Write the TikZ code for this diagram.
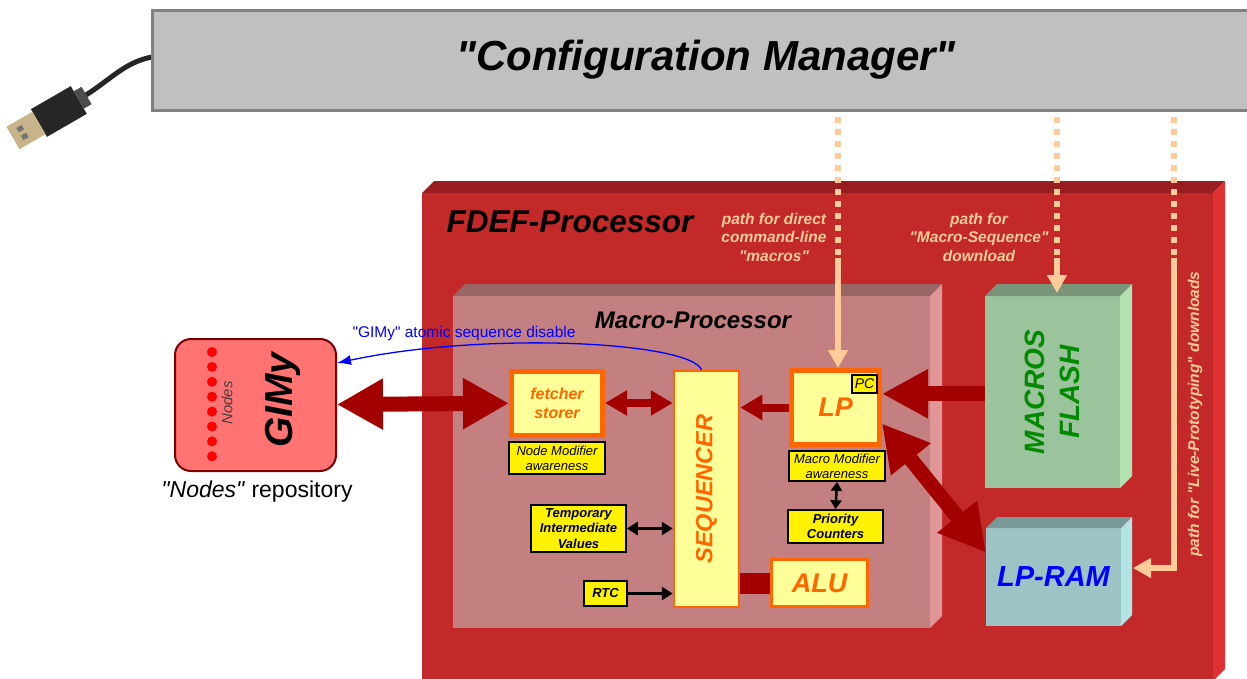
\documentclass[tikz,border=0pt]{standalone}
\usepackage{fontspec}
\setmainfont{Liberation Sans}[Ligatures=TeXOff]
\usetikzlibrary{arrows.meta}

\definecolor{cfggray}{HTML}{C0C0C0}
\definecolor{cfgline}{HTML}{808080}
\definecolor{fdefred}{HTML}{C4292A}
\definecolor{fdeftop}{HTML}{981E21}
\definecolor{fdefside}{HTML}{E03132}
\definecolor{macrofront}{HTML}{C48080}
\definecolor{macrotop}{HTML}{9A6565}
\definecolor{macroside}{HTML}{E09696}
\definecolor{flashfront}{HTML}{9CC49C}
\definecolor{flashtop}{HTML}{7A967A}
\definecolor{flashside}{HTML}{B2E2B2}
\definecolor{ramfront}{HTML}{9CC4C4}
\definecolor{ramtop}{HTML}{7A9A9A}
\definecolor{ramside}{HTML}{B2E4E4}
\definecolor{flashgreen}{HTML}{008A00}
\definecolor{arrowred}{HTML}{A30000}
\definecolor{gimyfill}{HTML}{FF7373}
\definecolor{gimyline}{HTML}{7A0000}
\definecolor{lightyel}{HTML}{FFFF99}
\definecolor{lporange}{HTML}{FF6600}
\definecolor{peach}{HTML}{FFCC99}
\definecolor{plugmetal}{HTML}{C8B48A}

\newcommand{\fsz}[2]{\fontsize{#1}{#2}\selectfont}
% top and right faces of a block, #2 = depth
\newcommand{\bevel}[4]{%
  \fill[#3] (#1.north west) -- ([shift={(#2,-#2)}]#1.north west) -- ([shift={(#2,-#2)}]#1.north east) -- (#1.north east) -- cycle;
  \fill[#4] (#1.north east) -- ([shift={(#2,-#2)}]#1.north east) -- ([shift={(#2,-#2)}]#1.south east) -- (#1.south east) -- cycle;}

\tikzset{
  face/.style={rectangle, inner sep=0pt, outer sep=0pt},
  thickbox/.style={draw=lporange, line width=5pt, fill=lightyel, text=lporange, align=center, inner sep=0pt},
  seqbox/.style={draw=lporange, line width=2.5pt, fill=lightyel, text=lporange, inner sep=0pt},
  tag/.style={draw=black, line width=1.6pt, fill=yellow, align=center, inner sep=0pt, font=\fsz{13}{15}\itshape},
  boldtag/.style={tag, font=\fsz{13}{15.5}\bfseries\itshape},
  bigarrow/.style={draw=arrowred, line width=15pt, {Triangle[length=46pt,width=48pt]}-{Triangle[length=46pt,width=48pt]}},
  bigsingle/.style={draw=arrowred, line width=15pt, -{Triangle[length=46pt,width=46pt]}},
  midarrow/.style={draw=arrowred, line width=8pt, -{Triangle[length=22pt,width=24pt]}},
  blackarrow/.style={draw=black, line width=3pt, -{Triangle[length=11pt,width=13pt]}},
  peachdots/.style={draw=peach, line width=6pt, dash pattern=on 6pt off 6pt},
  peachline/.style={draw=peach, line width=6pt, -{Triangle[length=18pt,width=19pt]}},
  peachtxt/.style={text=peach, align=center, font=\fsz{15.5}{18.5}\bfseries\itshape},
}

\begin{document}
\begin{tikzpicture}[x=1pt,y=-1pt]
\clip (0,0) rectangle (1247,678);

% usb plug and cable
\draw[line width=5pt, black!85, line cap=round] (86,95) .. controls (110,80) and (125,62) .. (152,57);
\begin{scope}[shift={(58,112)}, rotate=30]
  \fill[black!85] (-22,-16) rectangle (24,16);
  \fill[black!70] (24,-10) rectangle (33,10);
  \fill[plugmetal] (-52,-13) rectangle (-22,13);
  \fill[black!55] (-44,-7) rectangle (-38,-2);
  \fill[black!55] (-44,2) rectangle (-38,7);
\end{scope}

\node[face, draw=cfgline, line width=3pt, fill=cfggray, minimum width=1108, minimum height=100,
  font=\fsz{42}{48}\bfseries\itshape] (cfg) at (706,60) {"Configuration Manager"};

% processor blocks
\node[face, fill=fdefred, minimum width=791, minimum height=488] (fdef) at (817.5,437) {};
\bevel{fdef}{12}{fdeftop}{fdefside}
\node[font=\fsz{31.5}{36}\bfseries\itshape] (fdeftitle) at (570,222) {FDEF-Processor};

\node[face, fill=macrofront, minimum width=477, minimum height=332] (macro) at (691.5,462) {};
\bevel{macro}{12}{macrotop}{macroside}
\node[font=\fsz{24}{28}\bfseries\itshape] (macrotitle) at (693,320) {Macro-Processor};

\node[face, fill=flashfront, minimum width=135, minimum height=192] (flash) at (1052.5,392) {};
\bevel{flash}{12}{flashtop}{flashside}
\node[rotate=90, text=flashgreen, align=center, font=\fsz{28}{35}\bfseries\itshape] (flashtxt) at (flash.center) {MACROS\\FLASH};

\node[face, fill=ramfront, minimum width=135, minimum height=98, text=blue,
  font=\fsz{29}{32}\bfseries\itshape] (lpram) at (1053.5,577) {LP-RAM};
\bevel{lpram}{11}{ramtop}{ramside}

% GIMy
\node[draw=gimyline, fill=gimyfill, line width=2pt, rounded corners=16pt, minimum width=161, minimum height=132] (gimy) at (255.5,405) {};
\foreach \i in {0,...,7}
  \fill[red] (212,{352+14.9*\i}) circle (5);
\node[rotate=90, text=black!75, font=\fsz{15}{17}\itshape] (nodeslbl) at (227,403) {Nodes};
\node[rotate=90, font=\fsz{39}{44}\bfseries\itshape] (gimytxt) at (283,400) {GIMy};
\node[font=\fsz{23}{26}] (repo) at (257,492) {\textit{"Nodes"} repository};

% inside the macro-processor
\node[thickbox, minimum width=91, minimum height=64, font=\fsz{16}{19}\bfseries\itshape] (fetch) at (557,403) {fetcher\\storer};
\node[tag, minimum width=96, minimum height=32] (nodemod) at (557,458) {Node Modifier\\awareness};
\node[seqbox, minimum width=65, minimum height=236] (seq) at (706.5,489) {};
\node[rotate=90, text=lporange, font=\fsz{23.5}{26}\bfseries\itshape] (seqtxt) at (seq.center) {SEQUENCER};
\node[thickbox, minimum width=88, minimum height=74, font=\fsz{27}{30}\bfseries\itshape] (lp) at (835.5,407.5) {LP};
\node[tag, minimum width=25, minimum height=18, font=\fsz{14}{15}\itshape] (pc) at (864.5,384) {PC};
\node[tag, minimum width=96, minimum height=30] (macromod) at (837,466) {Macro Modifier\\awareness};
\node[boldtag, minimum width=95, minimum height=33] (prio) at (835.5,526.5) {Priority\\Counters};
\node[boldtag, minimum width=95, minimum height=47] (temp) at (578.5,528.5) {Temporary\\Intermediate\\Values};
\node[boldtag, minimum width=43, minimum height=25] (rtc) at (605.5,593.5) {RTC};
\node[seqbox, minimum width=96, minimum height=47, font=\fsz{27}{30}\bfseries\itshape] (alu) at (819.5,583) {ALU};

% data paths
\draw[bigarrow] (gimy) -- (fetch);
\draw[midarrow, {Triangle[length=22pt,width=24pt]}-{Triangle[length=22pt,width=24pt]}] (fetch.east) -- (fetch.east -| seq.west);
\draw[midarrow] (lp.west) -- (lp.west -| seq.east);
\draw[bigsingle] (flash.west |- pc.south) -- (lp.east |- pc.south);
\draw[bigarrow] (lp.-19) -- (lpram.160);
\draw[draw=arrowred, line width=21pt] (seq.east |- alu.west) -- (alu.west);
\draw[blackarrow, {Triangle[length=11pt,width=13pt]}-{Triangle[length=11pt,width=13pt]}] (temp.east) -- (temp.east -| seq.west);
\draw[blackarrow] (rtc.east) -- (rtc.east -| seq.west);
\draw[blackarrow, line width=2.5pt, {Triangle[length=9pt,width=11pt]}-{Triangle[length=9pt,width=11pt]}] (macromod.south) -- (prio.north);

\draw[blue, line width=1.3pt, -{Latex[length=14pt,width=10pt]}] ([xshift=-5pt]seq.north) .. controls +(-12,-28) and +(150,-32) .. ([yshift=42pt]gimy.east);
\node[text=blue, font=\fsz{15.5}{18}] (disable) at (464,333) {"GIMy" atomic sequence disable};

% download paths from the configuration manager
\coordinate (dirtop) at (838,117);
\coordinate (dirbrk) at (838,258);
\coordinate (seqtop) at (1057,117);
\coordinate (seqbrk) at (1057,258);
\coordinate (livetop) at (1174,117);
\coordinate (livebrk) at (1174,258);
\coordinate (ramin) at ([shift={(12,-9)}]lpram.east);
\draw[peachdots] (dirtop) -- (dirbrk);
\draw[peachdots] (seqtop) -- (seqbrk);
\draw[peachdots] (livetop) -- (livebrk);
\draw[peachline] (dirbrk) -- (dirbrk |- lp.north);
\draw[peachline] (seqbrk) -- ([yshift=3pt]seqbrk |- flash.north);
\draw[peachline] (livebrk) |- (ramin);

\node[peachtxt] (dirlbl) at (774,237) {path for direct\\command-line\\"macros"};
\node[peachtxt] (seqlbl) at (979,237) {path for\\"Macro-Sequence"\\download};
\node[peachtxt, rotate=90] (livelbl) at (1195,414) {path for "Live-Prototyping" downloads};
\end{tikzpicture}
\end{document}
